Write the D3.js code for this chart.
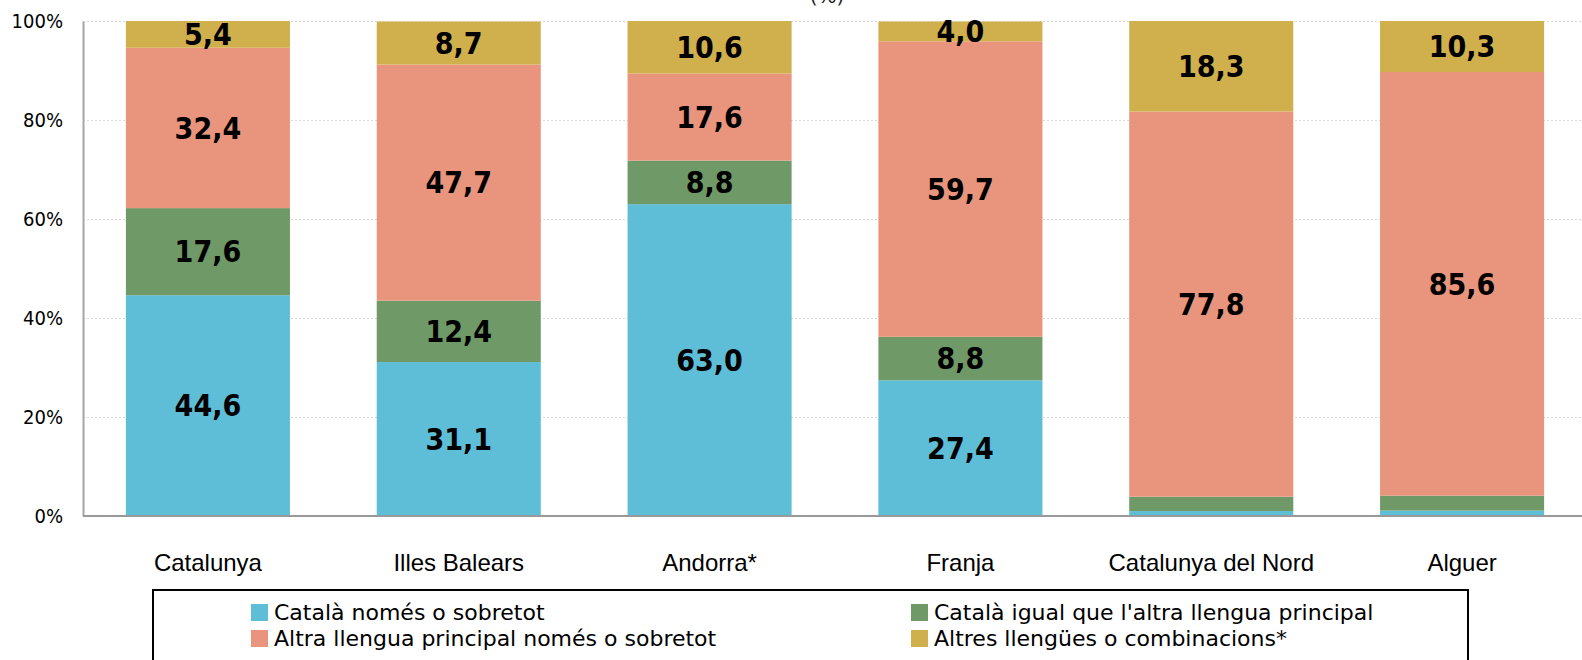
<!DOCTYPE html>
<html>
<head>
<meta charset="utf-8">
<script src="https://cdn.jsdelivr.net/npm/d3@7/dist/d3.min.js"></script>
<style>
  body { margin: 0; background: #fff; }
  svg { display: block; font-family: "DejaVu Sans", Verdana, sans-serif; }
</style>
</head>
<body>
<div id="chart"></div>
<script>
var categories = ["Catalunya", "Illes Balears", "Andorra*", "Franja", "Catalunya del Nord", "Alguer"];
var seriesNames = ["Català només o sobretot", "Català igual que l'altra llengua principal",
                   "Altra llengua principal només o sobretot", "Altres llengües o combinacions*"];
var catalaSobretot = [44.6, 31.1, 63.0, 27.4, 1.0, 1.1];
var catalaIgual    = [17.6, 12.4, 8.8, 8.8, 2.9, 3.0];
var altraLlengua   = [32.4, 47.7, 17.6, 59.7, 77.8, 85.6];
var altres         = [5.4, 8.7, 10.6, 4.0, 18.3, 10.3];
var yTicks = [0, 20, 40, 60, 80, 100];

var colors = ["#5FBED7", "#6F9966", "#E9957D", "#D0B04C"];

var width = 1582, height = 660;
var margin = {top: 21, right: 0, bottom: 144, left: 83};

var svg = d3.select("#chart").append("svg")
    .attr("width", width)
    .attr("height", height);

var x = d3.scaleBand()
    .domain(categories)
    .range([margin.left, 1587])
    .paddingInner(0.346)
    .paddingOuter(0.171);

var y = d3.scaleLinear()
    .domain([0, 100])
    .range([height - margin.bottom, margin.top]);

// title (cut at top of the picture)
svg.append("text")
    .attr("x", 827)
    .attr("y", 3)
    .attr("text-anchor", "middle")
    .style("font-size", "20px")
    .style("fill", "#222")
    .text("(%)");

// gridlines
svg.append("g").selectAll("line")
    .data(yTicks.filter(function(d) { return d > 0; }))
    .enter().append("line")
    .attr("x1", margin.left)
    .attr("x2", width)
    .attr("y1", function(d) { return y(d) + 0.5; })
    .attr("y2", function(d) { return y(d) + 0.5; })
    .style("stroke", "#d9d9d9")
    .style("stroke-dasharray", "2,2");

var rows = categories.map(function(c, i) {
  return {cat: c, s0: catalaSobretot[i], s1: catalaIgual[i], s2: altraLlengua[i], s3: altres[i]};
});
var stack = d3.stack().keys(["s0", "s1", "s2", "s3"]);
var layers = stack(rows);

var groups = svg.append("g").selectAll("g")
    .data(layers)
    .enter().append("g")
    .style("fill", function(d, i) { return colors[i]; });

groups.selectAll("rect")
    .data(function(d) { return d; })
    .enter().append("rect")
    .attr("x", function(d) { return x(d.data.cat); })
    .attr("width", x.bandwidth())
    .attr("y", function(d) { return y(d[1]); })
    .attr("height", function(d) { return y(d[0]) - y(d[1]); });

// value labels (tiny segments have none)
groups.selectAll("text")
    .data(function(d) { return d.filter(function(p) { return p[1] - p[0] >= 3.5; }); })
    .enter().append("text")
    .attr("x", function(d) { return x(d.data.cat) + x.bandwidth() / 2; })
    .attr("y", function(d) { return (y(d[0]) + y(d[1])) / 2; })
    .attr("dy", "0.36em")
    .attr("text-anchor", "middle")
    .style("fill", "#000")
    .style("font-weight", "bold")
    .style("font-size", "30px")
    .style("font-family", "'DejaVu Sans Condensed', 'DejaVu Sans', sans-serif")
    .text(function(d) { return (d[1] - d[0]).toFixed(1).replace(".", ","); });

// axes
var yAxis = svg.append("g")
    .attr("transform", "translate(" + margin.left + ",0)")
    .call(d3.axisLeft(y).tickValues(yTicks).tickSize(0).tickPadding(20)
      .tickFormat(function(d) { return d + "%"; }));
yAxis.select(".domain").style("stroke", "#a6a6a6").style("stroke-width", 2);
yAxis.selectAll("text").style("font-size", "20px").style("fill", "#000")
    .style("font-family", "'DejaVu Sans Condensed', 'DejaVu Sans', sans-serif");

var xAxis = svg.append("g")
    .attr("transform", "translate(0," + (height - margin.bottom) + ")")
    .call(d3.axisBottom(x).tickSize(0).tickPadding(0));
xAxis.select(".domain").attr("d", "M" + margin.left + ",0H" + width)
    .style("stroke", "#999").style("stroke-width", 2);
xAxis.selectAll("text").attr("y", 55).attr("dy", null)
    .style("font-size", "24px").style("fill", "#000");

// legend
var legend = svg.append("g");
legend.append("rect")
    .attr("x", 153).attr("y", 590)
    .attr("width", 1315).attr("height", 80)
    .style("fill", "#fff").style("stroke", "#000").style("stroke-width", 2);

var legendPos = [[251, 612.5], [911, 612.5], [251, 638.5], [911, 638.5]];
var items = legend.selectAll("g.item")
    .data(seriesNames)
    .enter().append("g")
    .attr("class", "item")
    .attr("transform", function(d, i) { return "translate(" + legendPos[i][0] + "," + legendPos[i][1] + ")"; });
items.append("rect")
    .attr("x", 0).attr("y", -8.5).attr("width", 17).attr("height", 17)
    .style("fill", function(d, i) { return colors[i]; });
items.append("text")
    .attr("x", 23).attr("dy", "0.36em")
    .style("font-size", "22px")
    .text(function(d) { return d; });
</script>
</body>
</html>
